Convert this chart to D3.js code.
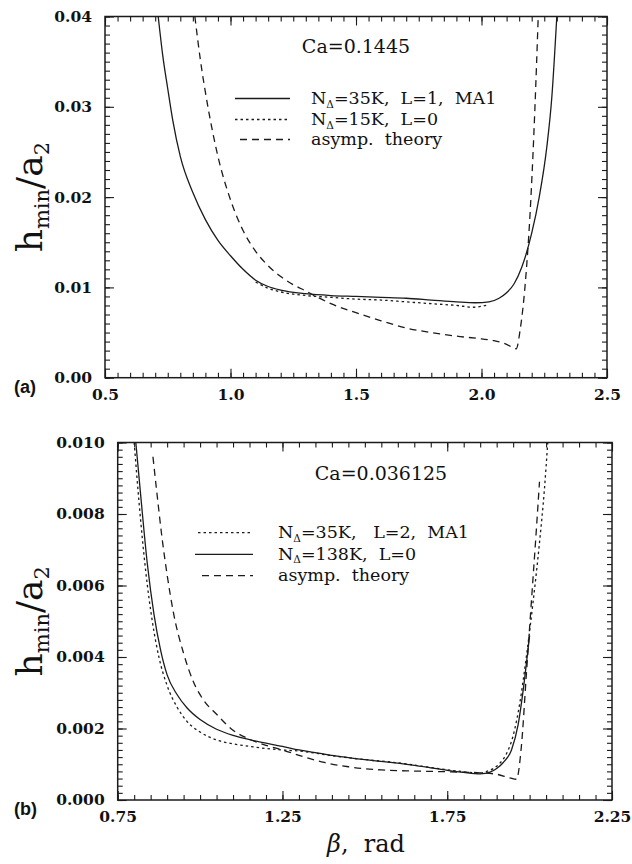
<!DOCTYPE html>
<html>
<head>
<meta charset="utf-8">
<script src="https://cdn.jsdelivr.net/npm/d3@7"></script>
<style>
  body { margin: 0; background: #fff; }
  text { fill: #111; }
</style>
</head>
<body>
<svg id="fig" width="632" height="864"></svg>
<script>
// ---------- Panel (a): Ca = 0.1445 ----------
const aSolidBeta = [0.712, 0.73, 0.75, 0.77, 0.80, 0.85, 0.90, 0.95, 1.00, 1.05, 1.10, 1.15, 1.20, 1.30, 1.40, 1.50, 1.60, 1.70, 1.80, 1.90, 1.975, 2.03, 2.07, 2.10, 2.13, 2.16, 2.20, 2.23, 2.26, 2.28, 2.30];
const aSolidH    = [0.0400, 0.0357, 0.0320, 0.0285, 0.0245, 0.0205, 0.0175, 0.0152, 0.0135, 0.0120, 0.0108, 0.0101, 0.0097, 0.0093, 0.0091, 0.0090, 0.0089, 0.0088, 0.0086, 0.0084, 0.0083, 0.0084, 0.0088, 0.0094, 0.0104, 0.0122, 0.0160, 0.0200, 0.0255, 0.0310, 0.0400];

const aDotBeta = [1.10, 1.15, 1.20, 1.30, 1.40, 1.50, 1.60, 1.70, 1.80, 1.90, 1.97, 2.00, 2.03];
const aDotH    = [0.0106, 0.0099, 0.0095, 0.0091, 0.0089, 0.0087, 0.0086, 0.0084, 0.0082, 0.0080, 0.0078, 0.0079, 0.0081];

const aDashBeta = [0.858, 0.88, 0.91, 0.95, 1.00, 1.05, 1.10, 1.15, 1.20, 1.25, 1.30, 1.34, 1.40, 1.50, 1.60, 1.70, 1.80, 1.90, 2.00, 2.05, 2.10, 2.138, 2.155, 2.173, 2.197, 2.213, 2.226];
const aDashH    = [0.0400, 0.0352, 0.0300, 0.0245, 0.0197, 0.0163, 0.0140, 0.0124, 0.0112, 0.0103, 0.0096, 0.0090, 0.0082, 0.0072, 0.0063, 0.0055, 0.0050, 0.0046, 0.0043, 0.0041, 0.0037, 0.0032, 0.0055, 0.0100, 0.0200, 0.0300, 0.0400];

const aXTicks = [0.5, 1.0, 1.5, 2.0, 2.5];
const aYTicks = [0.00, 0.01, 0.02, 0.03, 0.04];
const aLegend = ["N|Δ|=35K,  L=1,  MA1", "N|Δ|=15K,  L=0", "asymp.  theory"];
const aTitle = "Ca=0.1445";

// ---------- Panel (b): Ca = 0.036125 ----------
const bDotBeta = [0.80, 0.815, 0.835, 0.855, 0.875, 0.90, 0.93, 0.96, 1.00, 1.05, 1.10, 1.15, 1.20, 1.25, 1.30, 1.40, 1.50, 1.60, 1.70, 1.80, 1.85, 1.87, 1.89, 1.91, 1.93, 1.95, 1.97, 1.99, 2.01, 2.03, 2.045, 2.055];
const bDotH    = [0.0100, 0.0083, 0.0064, 0.0050, 0.0040, 0.0032, 0.0026, 0.0022, 0.00190, 0.00168, 0.00157, 0.00150, 0.00144, 0.00140, 0.00137, 0.00124, 0.00113, 0.00104, 0.00091, 0.00079, 0.00075, 0.00080, 0.00088, 0.00103, 0.0013, 0.0018, 0.0027, 0.0040, 0.0055, 0.0072, 0.0087, 0.0100];

const bSolidBeta = [0.805, 0.82, 0.84, 0.86, 0.88, 0.90, 0.93, 0.96, 1.00, 1.05, 1.10, 1.15, 1.20, 1.25, 1.30, 1.40, 1.50, 1.60, 1.65, 1.70, 1.75, 1.80, 1.85, 1.88, 1.90, 1.92, 1.945, 1.965, 1.985, 2.00];
const bSolidH    = [0.0100, 0.0085, 0.0066, 0.0052, 0.0042, 0.0035, 0.00295, 0.00258, 0.00225, 0.00198, 0.00181, 0.00169, 0.00159, 0.00150, 0.00140, 0.00125, 0.00113, 0.00103, 0.00097, 0.00090, 0.00083, 0.00077, 0.00073, 0.00078, 0.00088, 0.00105, 0.0014, 0.0021, 0.0034, 0.0046];

const bDashBeta = [0.857, 0.87, 0.885, 0.90, 0.92, 0.95, 0.98, 1.01, 1.05, 1.10, 1.15, 1.20, 1.25, 1.30, 1.377, 1.45, 1.55, 1.65, 1.75, 1.85, 1.90, 1.94, 1.96, 1.975, 1.99, 2.005, 2.02, 2.03];
const bDashH    = [0.0096, 0.0085, 0.0073, 0.0063, 0.0052, 0.0041, 0.0033, 0.0028, 0.0024, 0.00195, 0.00170, 0.00153, 0.00140, 0.00125, 0.00105, 0.00093, 0.00084, 0.00081, 0.00079, 0.00076, 0.00072, 0.00062, 0.00058, 0.0015, 0.0035, 0.0055, 0.0075, 0.0089];

const bXTicks = [0.75, 1.25, 1.75, 2.25];
const bYTicks = [0.000, 0.002, 0.004, 0.006, 0.008, 0.010];
const bLegend = ["N|Δ|=35K,   L=2,  MA1", "N|Δ|=138K,  L=0", "asymp.  theory"];
const bTitle = "Ca=0.036125";

const SERIF = "'DejaVu Serif', serif";
const SANS = "'Liberation Sans', Arial, sans-serif";
const DASH = { solid: null, dotted: "2.5,3", dashed: "7,5" };
const INK = "#1b1b1b";

const svg = d3.select("#fig");

function zip(bs, hs) { return bs.map((b, i) => [b, hs[i]]); }

function drawPanel(cfg) {
  const x = d3.scaleLinear().domain(cfg.xDomain).range(cfg.xRange);
  const y = d3.scaleLinear().domain(cfg.yDomain).range(cfg.yRange);
  const g = svg.append("g");
  const [x0, x1] = cfg.xRange, [y0, y1] = [cfg.yRange[1], cfg.yRange[0]];

  const clipId = "clip-" + cfg.id;
  g.append("clipPath").attr("id", clipId)
    .append("rect").attr("x", x0).attr("y", y0).attr("width", x1 - x0).attr("height", y1 - y0);

  const minorX = d3.range(cfg.xDomain[0], cfg.xDomain[1] + 1e-9, cfg.xMinor);
  const minorY = d3.range(cfg.yDomain[0], cfg.yDomain[1] + 1e-12, cfg.yMinor);

  const styleAxis = sel => {
    sel.select(".domain").remove();
    sel.selectAll("line").attr("stroke", INK).attr("stroke-width", 1.1);
  };

  // minor ticks on all four sides, pointing inward
  g.append("g").attr("transform", `translate(0,${y1})`)
    .call(d3.axisBottom(x).tickValues(minorX).tickSize(-5).tickFormat("")).call(styleAxis);
  g.append("g").attr("transform", `translate(0,${y0})`)
    .call(d3.axisTop(x).tickValues(minorX).tickSize(-5).tickFormat("")).call(styleAxis);
  g.append("g").attr("transform", `translate(${x0},0)`)
    .call(d3.axisLeft(y).tickValues(minorY).tickSize(-5).tickFormat("")).call(styleAxis);
  g.append("g").attr("transform", `translate(${x1},0)`)
    .call(d3.axisRight(y).tickValues(minorY).tickSize(-5).tickFormat("")).call(styleAxis);

  // major ticks with labels
  const bx = g.append("g").attr("transform", `translate(0,${y1})`)
    .call(d3.axisBottom(x).tickValues(cfg.xTicks).tickSize(-9).tickPadding(11).tickFormat(d3.format(cfg.xFmt)))
    .call(styleAxis);
  g.append("g").attr("transform", `translate(0,${y0})`)
    .call(d3.axisTop(x).tickValues(cfg.xTicks).tickSize(-9).tickFormat("")).call(styleAxis);
  const ly = g.append("g").attr("transform", `translate(${x0},0)`)
    .call(d3.axisLeft(y).tickValues(cfg.yTicks).tickSize(-9).tickPadding(13).tickFormat(d3.format(cfg.yFmt)))
    .call(styleAxis);
  g.append("g").attr("transform", `translate(${x1},0)`)
    .call(d3.axisRight(y).tickValues(cfg.yTicks).tickSize(-9).tickFormat("")).call(styleAxis);
  [bx, ly].forEach(a => a.selectAll("text")
    .style("font-family", SERIF).style("font-weight", "bold")
    .style("font-size", "15.5px").attr("fill", "#111"));

  // frame
  g.append("rect").attr("x", x0).attr("y", y0).attr("width", x1 - x0).attr("height", y1 - y0)
    .attr("fill", "none").attr("stroke", INK).attr("stroke-width", 1.5);

  // curves
  const line = d3.line().x(d => x(d[0])).y(d => y(d[1])).curve(d3.curveMonotoneX);
  const curves = g.append("g").attr("clip-path", `url(#${clipId})`);
  cfg.series.forEach(s => {
    curves.append("path").datum(zip(s.beta, s.h))
      .attr("d", line).attr("fill", "none").attr("stroke", INK)
      .attr("stroke-width", 1.3).attr("stroke-dasharray", DASH[s.style]);
  });

  // title inside the frame
  g.append("text").attr("x", cfg.title.x).attr("y", cfg.title.y)
    .attr("text-anchor", "middle").style("font-family", SERIF).style("font-size", "19px")
    .text(cfg.title.text);

  // legend
  cfg.legend.rows.forEach((row, i) => {
    const ly0 = cfg.legend.y[i];
    g.append("line").attr("x1", row.x1).attr("x2", cfg.legend.lineEnd)
      .attr("y1", ly0).attr("y2", ly0).attr("stroke", INK).attr("stroke-width", 1.3)
      .attr("stroke-dasharray", DASH[row.style]);
    const t = g.append("text").attr("x", cfg.legend.textX).attr("y", ly0 + 5.5)
      .style("font-family", SERIF).style("font-size", "17.5px").style("white-space", "pre");
    const parts = row.label.split("|");
    if (parts.length === 3) {
      t.append("tspan").text(parts[0]);
      t.append("tspan").style("font-size", "10.5px").attr("dy", 3.5).text(parts[1]);
      t.append("tspan").attr("dy", -3.5).text(parts[2]);
    } else {
      t.text(row.label);
    }
  });

  // y axis label: h_min / a_2
  const yl = g.append("text")
    .attr("transform", `translate(${cfg.yLabelX},${(y0 + y1) / 2}) rotate(-90)`)
    .attr("text-anchor", "middle").style("font-family", SERIF).style("font-size", "36px");
  yl.append("tspan").text("h");
  yl.append("tspan").style("font-size", "21px").attr("dy", 7).text("min");
  yl.append("tspan").attr("dy", -7).text("/a");
  yl.append("tspan").style("font-size", "21px").attr("dy", 7).text("2");

  // panel tag
  g.append("text").attr("x", 14).attr("y", cfg.tagY)
    .style("font-family", SANS).style("font-weight", "bold").style("font-size", "18px")
    .text(cfg.tag);

  return { x, y };
}

drawPanel({
  id: "a",
  xDomain: [0.5, 2.5], xRange: [105, 607],
  yDomain: [0, 0.04], yRange: [377.7, 16.5],
  xTicks: aXTicks, yTicks: aYTicks, xMinor: 0.05, yMinor: 0.001,
  xFmt: ".1f", yFmt: ".2f",
  series: [
    { beta: aSolidBeta, h: aSolidH, style: "solid" },
    { beta: aDotBeta, h: aDotH, style: "dotted" },
    { beta: aDashBeta, h: aDashH, style: "dashed" }
  ],
  title: { text: aTitle, x: 356, y: 53 },
  legend: {
    textX: 311, lineEnd: 290, y: [98.5, 119.5, 139.5],
    rows: [
      { label: aLegend[0], style: "solid", x1: 235 },
      { label: aLegend[1], style: "dotted", x1: 235 },
      { label: aLegend[2], style: "dashed", x1: 240 }
    ]
  },
  yLabelX: 42, tag: "(a)", tagY: 393
});

drawPanel({
  id: "b",
  xDomain: [0.75, 2.25], xRange: [117.7, 612],
  yDomain: [0, 0.010], yRange: [800, 442.5],
  xTicks: bXTicks, yTicks: bYTicks, xMinor: 0.05, yMinor: 0.0002,
  xFmt: ".2f", yFmt: ".3f",
  series: [
    { beta: bDotBeta, h: bDotH, style: "dotted" },
    { beta: bSolidBeta, h: bSolidH, style: "solid" },
    { beta: bDashBeta, h: bDashH, style: "dashed" }
  ],
  title: { text: bTitle, x: 381, y: 480 },
  legend: {
    textX: 278, lineEnd: 253, y: [532.7, 554.3, 575.7],
    rows: [
      { label: bLegend[0], style: "dotted", x1: 198 },
      { label: bLegend[1], style: "solid", x1: 195 },
      { label: bLegend[2], style: "dashed", x1: 202 }
    ]
  },
  yLabelX: 42, tag: "(b)", tagY: 815
});

// x axis title under the lower panel
const xt = svg.append("text").attr("x", 366).attr("y", 852)
  .attr("text-anchor", "middle").style("font-family", SERIF).style("font-size", "24px")
  .style("white-space", "pre");
xt.append("tspan").style("font-style", "italic").text("β");
xt.append("tspan").text(",  rad");
</script>
</body>
</html>
